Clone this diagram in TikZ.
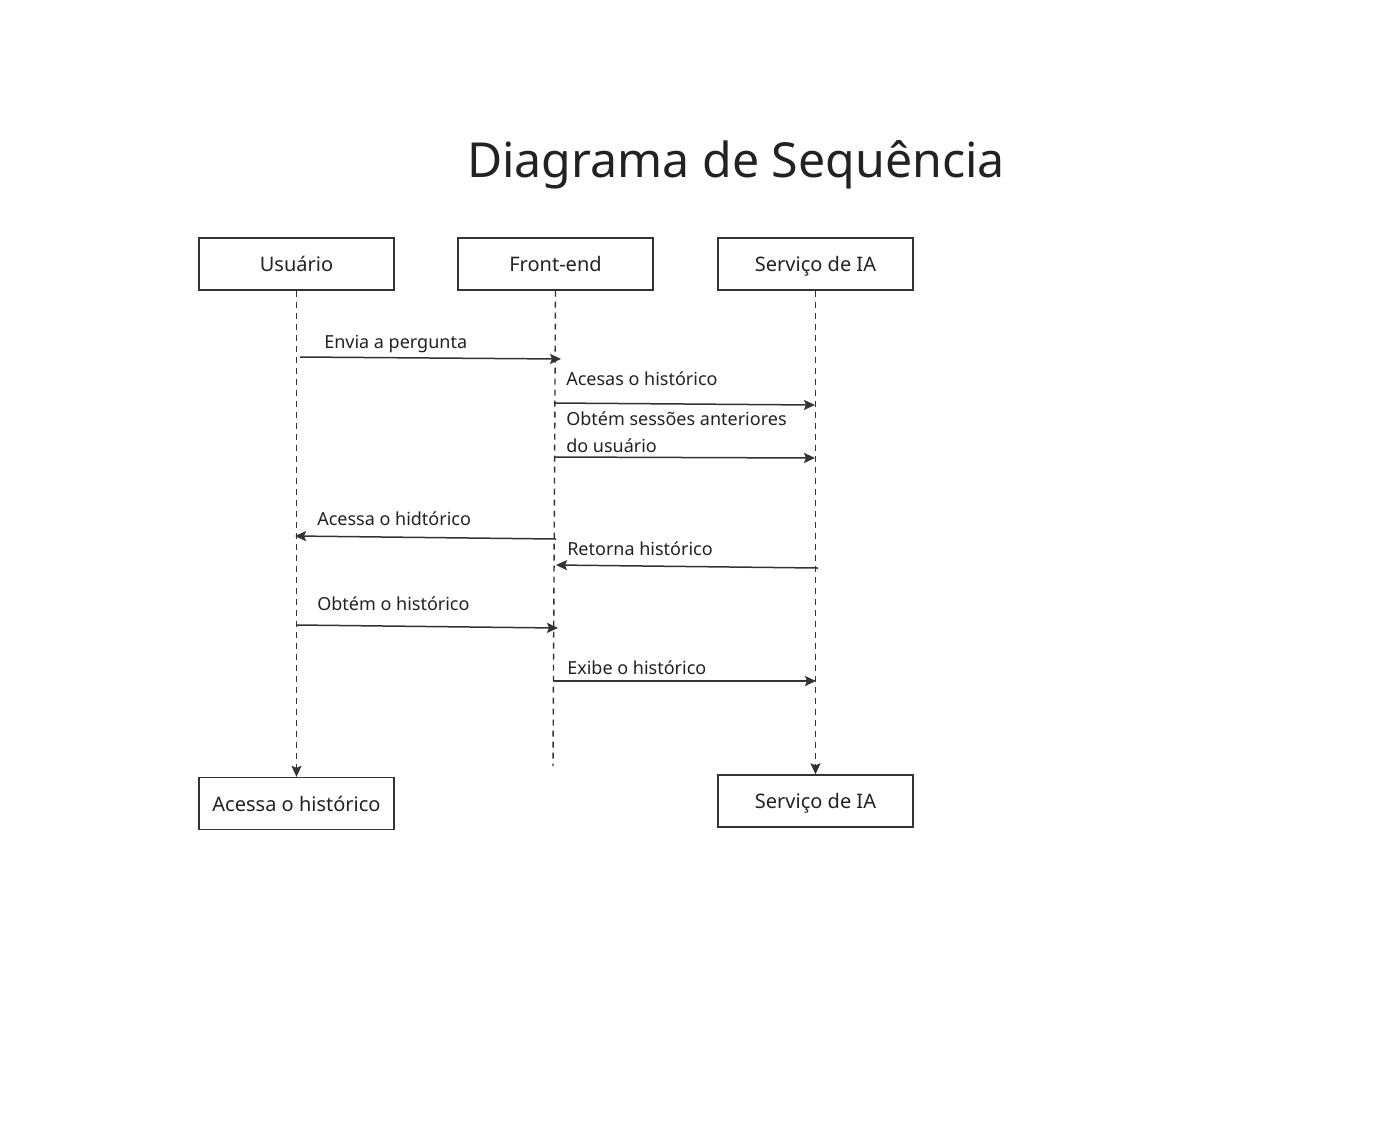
\documentclass[tikz,border=0pt]{standalone}
\usepackage{fontspec}
\setmainfont{Noto Sans}
\usetikzlibrary{arrows.meta}
\definecolor{ink}{HTML}{333333}
\definecolor{titleink}{HTML}{222222}
\begin{document}
\begin{tikzpicture}[x=0.75pt,y=-0.75pt,
  actor/.style={draw=ink,line width=1.4*0.75pt,minimum width=195*0.75pt,minimum height=52*0.75pt,inner sep=0pt,text height=11.5pt,text depth=0pt,font=\fontsize{15}{18}\selectfont,text=titleink},
  life/.style={draw=ink,dash pattern=on 6*0.75pt off 5*0.75pt,line width=1.4*0.75pt},
  tip/.style={-{Stealth[length=11*0.75pt,width=10*0.75pt,inset=1.5pt]}},
  msg/.style={draw=ink,line width=1.5*0.75pt,-{Stealth[length=11*0.75pt,width=10*0.75pt,inset=1.5pt]}},
  lbl/.style={anchor=base west,inner sep=0pt,font=\fontsize{13.5}{20}\selectfont,text=titleink,align=left}]
\useasboundingbox (0,0) rectangle (1387,1125);
\fill[white] (0,0) rectangle (1387,1125);
\node[anchor=base,inner sep=0pt,text=titleink,font=\fontsize{36.2}{44}\selectfont] (title) at (736,177) {Diagrama de Sequência};
% actor boxes
\node[actor] (u) at (296.5,264) {Usuário};
\node[actor] (f) at (555.5,264) {Front-end};
\node[actor] (s) at (815.5,264) {Serviço de IA};
\node[actor] (ub) at (296.5,803.5) {Acessa o histórico};
\node[actor] (sb) at (815.5,801) {Serviço de IA};
% lifelines
\coordinate (fend) at (553,766);
\draw[life,tip] (u.south) -- (ub.north);
\draw[life] (f.south) -- (fend);
\draw[life,tip] (s.south) -- (sb.north);
% message endpoints
\coordinate (m1a) at (300,357); \coordinate (m1b) at (561,359);
\coordinate (m2a) at (554,403); \coordinate (m2b) at (815,405);
\coordinate (m3a) at (554,457); \coordinate (m3b) at (815,458);
\coordinate (m4a) at (556,539); \coordinate (m4b) at (295,536);
\coordinate (m5a) at (818,568); \coordinate (m5b) at (556,565);
\coordinate (m6a) at (297,625); \coordinate (m6b) at (558,628);
\coordinate (m7a) at (554,681); \coordinate (m7b) at (816,681);
\draw[msg] (m1a) -- (m1b);
\draw[msg] (m2a) -- (m2b);
\draw[msg] (m3a) -- (m3b);
\draw[msg] (m4a) -- (m4b);
\draw[msg] (m5a) -- (m5b);
\draw[msg] (m6a) -- (m6b);
\draw[msg] (m7a) -- (m7b);
% labels
\node[lbl] (l1) at (324,348) {Envia a pergunta};
\node[lbl] (l2) at (566,385) {Acesas o histórico};
\node[lbl] (l3) at (566,452) {Obtém sessões anteriores\\do usuário};
\node[lbl] (l4) at (317,525) {Acessa o hidtórico};
\node[lbl] (l5) at (567,555) {Retorna histórico};
\node[lbl] (l6) at (317,610) {Obtém o histórico};
\node[lbl] (l7) at (567,674) {Exibe o histórico};
\end{tikzpicture}
\end{document}
